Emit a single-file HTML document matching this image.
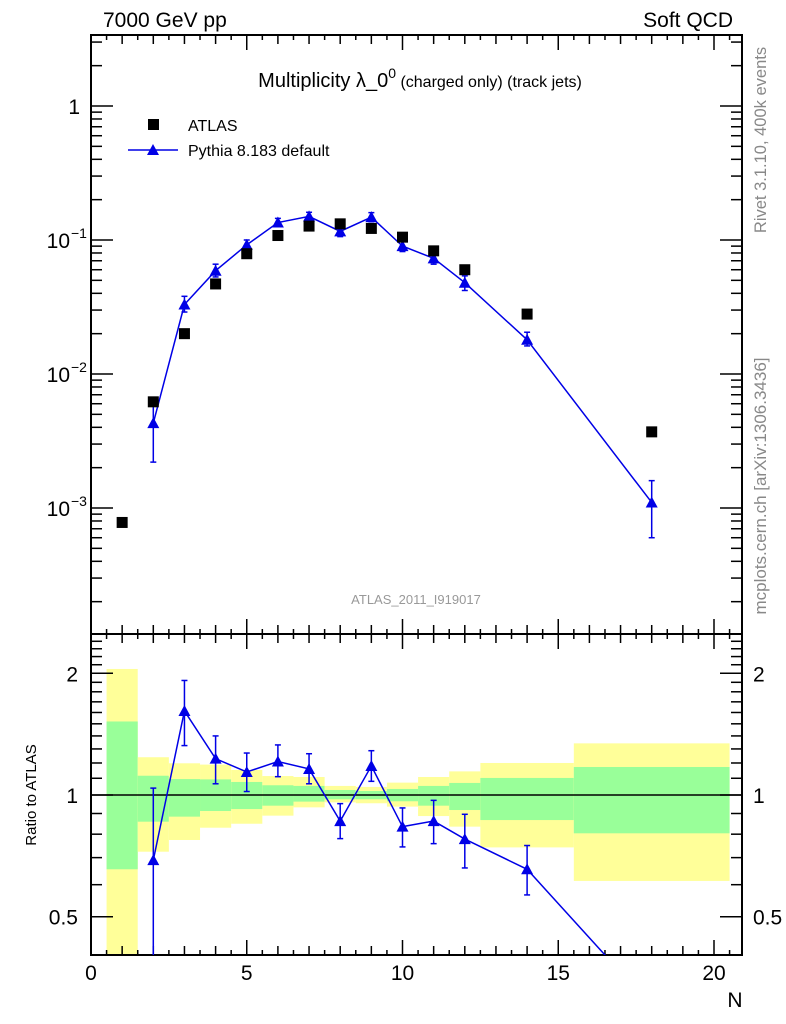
<!DOCTYPE html>
<html><head><meta charset="utf-8"><style>
html,body{margin:0;padding:0;background:#fff;width:786px;height:1024px;overflow:hidden}
svg{display:block;font-family:"Liberation Sans",Arial,sans-serif}
</style></head><body>
<svg id="c" width="786" height="1024" viewBox="0 0 786 1024"></svg>
<script>
const xs=[1,2,3,4,5,6,7,8,9,10,11,12,14,18];
const atlasVals=[0.00078,0.0062,0.020,0.047,0.079,0.108,0.127,0.132,0.122,0.105,0.083,0.060,0.028,0.0037];
const pyX=[2,3,4,5,6,7,8,9,10,11,12,14,18];
const pyVals=[0.0043,0.033,0.059,0.092,0.135,0.150,0.116,0.148,0.090,0.073,0.048,0.018,0.0011];
const pyLo=[0.0022,0.029,0.053,0.085,0.126,0.140,0.106,0.137,0.082,0.066,0.042,0.0162,0.0006];
const pyHi=[0.0064,0.038,0.066,0.100,0.145,0.161,0.126,0.160,0.098,0.080,0.054,0.0205,0.0016];
const rVals=[0.69,1.614,1.23,1.14,1.21,1.16,0.862,1.18,0.835,0.862,0.778,0.655,0.30];
const rHi=[1.04,1.92,1.40,1.27,1.33,1.265,0.952,1.287,0.929,0.97,0.896,0.75,0.38];
const rLo=[0.01,1.325,1.066,1.02,1.11,1.066,0.78,1.081,0.744,0.758,0.66,0.566,0.16];
const binLo=[0.5,1.5,2.5,3.5,4.5,5.5,6.5,7.5,8.5,9.5,10.5,11.5,12.5,15.5];
const binHi=[1.5,2.5,3.5,4.5,5.5,6.5,7.5,8.5,9.5,10.5,11.5,12.5,15.5,20.5];
const yelHi=[2.05,1.24,1.198,1.189,1.153,1.114,1.108,1.053,1.047,1.073,1.108,1.144,1.200,1.342];
const yelLo=[0.3,0.724,0.774,0.830,0.849,0.889,0.932,0.959,0.954,0.936,0.887,0.835,0.742,0.613];
const grnHi=[1.52,1.116,1.095,1.093,1.077,1.057,1.053,1.029,1.023,1.035,1.053,1.071,1.102,1.173];
const grnLo=[0.655,0.859,0.884,0.913,0.923,0.941,0.963,0.976,0.976,0.965,0.941,0.918,0.867,0.804];
const xTicks=[0,5,10,15,20];
const yTicks=[1,0.1,0.01,0.001];
const yTickLabels=["1","10^-1","10^-2","10^-3"];
const rTicks=[2,1,0.5];

const L=91,R=742,T=35,M=634,B=955;
const X=v=>L+v*31.15;
const Y=v=>106-134*Math.log10(v);
const RY=v=>795-121.7*Math.log2(v);
const svg=document.getElementById('c');
const NS='http://www.w3.org/2000/svg';
function mk(tag,at,parent){const e=document.createElementNS(NS,tag);for(const k in at)e.setAttribute(k,at[k]);(parent||svg).appendChild(e);return e;}
function txt(x,y,s,at,parent){const e=mk('text',Object.assign({x:x,y:y},at||{}),parent);e.textContent=s;return e;}

const defs=mk('defs',{});
const c1=mk('clipPath',{id:'cp1'},defs);mk('rect',{x:L,y:T,width:R-L,height:M-T},c1);
const c2=mk('clipPath',{id:'cp2'},defs);mk('rect',{x:L,y:M,width:R-L,height:B-M},c2);

const bands=mk('g',{'clip-path':'url(#cp2)'});


for(let i=0;i<binLo.length;i++){
  const y=mk('rect',{x:X(binLo[i]),y:RY(yelHi[i]),width:X(binHi[i])-X(binLo[i]),height:RY(yelLo[i])-RY(yelHi[i]),fill:'#ffff99'},bands);
  
  
  const g=mk('rect',{x:X(binLo[i]),y:RY(grnHi[i]),width:X(binHi[i])-X(binLo[i]),height:RY(grnLo[i])-RY(grnHi[i]),fill:'#99ff99'},bands);
  
  
}
mk('line',{x1:L,x2:R,y1:RY(1),y2:RY(1),stroke:'#000','stroke-width':1.5});

mk('rect',{x:L,y:T,width:R-L,height:M-T,fill:'none',stroke:'#000','stroke-width':2});
mk('rect',{x:L,y:M,width:R-L,height:B-M,fill:'none',stroke:'#000','stroke-width':2});

for(let v=0;v<=20.5;v+=0.5){
  const maj=v%5===0, mid=Number.isInteger(v);
  const len=maj?15:(mid?9:5);
  const x=X(v);
  mk('line',{x1:x,x2:x,y1:T,y2:T+len,stroke:'#000','stroke-width':1.5});
  mk('line',{x1:x,x2:x,y1:M-len,y2:M+len,stroke:'#000','stroke-width':1.5});
  mk('line',{x1:x,x2:x,y1:B,y2:B-len,stroke:'#000','stroke-width':1.5});
}
xTicks.forEach(v=>{const t=txt(X(v),980,String(v),{'font-size':21,'text-anchor':'middle'});
 
 });
const xt=txt(735,1007,'N',{'font-size':21,'text-anchor':'middle'});



for(let d=-4;d<=0;d++){for(let m=1;m<=9;m++){
  const v=m*Math.pow(10,d);const y=Y(v);if(y<T||y>M)continue;
  const len=m===1?22:11;
  mk('line',{x1:L,x2:L+len,y1:y,y2:y,stroke:'#000','stroke-width':1.5});
  mk('line',{x1:R,x2:R-len,y1:y,y2:y,stroke:'#000','stroke-width':1.5});
}}
yTicks.forEach((v,i)=>{
  const y=Y(v)+8;
  let t;
  if(i===0){t=txt(80,y,'1',{'font-size':21,'text-anchor':'end'});}
  else{t=txt(70,y,'10',{'font-size':21,'text-anchor':'end'});
    txt(71,y-10,'\u2212'+i,{'font-size':14});}
  
  
});

for(let v=0.4;v<=2.55;v+=0.1){
  const y=RY(v);if(y<M||y>B)continue;
  const maj=[0.5,1,2].some(m=>Math.abs(m-v)<1e-6);
  const len=maj?22:11;
  mk('line',{x1:L,x2:L+len,y1:y,y2:y,stroke:'#000','stroke-width':1.5});
  mk('line',{x1:R,x2:R-len,y1:y,y2:y,stroke:'#000','stroke-width':1.5});
}
rTicks.forEach(v=>{
  const t=txt(78,RY(v)+8,String(v),{'font-size':21,'text-anchor':'end'});
  
  
  const t2=txt(753,RY(v)+8,String(v),{'font-size':21});
  
  
});
const ryt=txt(0,0,'Ratio to ATLAS',{'font-size':15,'text-anchor':'middle',transform:'translate(36,795) rotate(-90)'});



const g1=mk('g',{'clip-path':'url(#cp1)'});
const pl=mk('polyline',{points:pyX.map((x,i)=>X(x)+','+Y(pyVals[i])).join(' '),fill:'none',stroke:'#0000e6','stroke-width':1.5},g1);


function tri(x,y,p){return mk('polygon',{points:`${x},${y-6} ${x-6},${y+5} ${x+6},${y+5}`,fill:'#0000e6'},p);}
pyX.forEach((x,i)=>{
  const xx=X(x);
  mk('line',{x1:xx,x2:xx,y1:Y(pyHi[i]),y2:Y(pyLo[i]),stroke:'#0000e6','stroke-width':1.5},g1);
  mk('line',{x1:xx-3,x2:xx+3,y1:Y(pyHi[i]),y2:Y(pyHi[i]),stroke:'#0000e6','stroke-width':1.5},g1);
  mk('line',{x1:xx-3,x2:xx+3,y1:Y(pyLo[i]),y2:Y(pyLo[i]),stroke:'#0000e6','stroke-width':1.5},g1);
  const t=tri(xx,Y(pyVals[i]),g1);
  
  
});
xs.forEach((x,i)=>{
  const r=mk('rect',{x:X(x)-5.5,y:Y(atlasVals[i])-5.5,width:11,height:11,fill:'#000'},g1);
  
  
});

const g2=mk('g',{'clip-path':'url(#cp2)'});
const rl=mk('polyline',{points:pyX.map((x,i)=>X(x)+','+RY(rVals[i])).join(' '),fill:'none',stroke:'#0000e6','stroke-width':1.5},g2);


pyX.forEach((x,i)=>{
  const xx=X(x);
  mk('line',{x1:xx,x2:xx,y1:RY(rHi[i]),y2:RY(rLo[i]),stroke:'#0000e6','stroke-width':1.5},g2);
  mk('line',{x1:xx-3,x2:xx+3,y1:RY(rHi[i]),y2:RY(rHi[i]),stroke:'#0000e6','stroke-width':1.5},g2);
  mk('line',{x1:xx-3,x2:xx+3,y1:RY(rLo[i]),y2:RY(rLo[i]),stroke:'#0000e6','stroke-width':1.5},g2);
  const t=tri(xx,RY(rVals[i]),g2);
  
  
});

const lg=mk('g',{});


mk('rect',{x:148,y:119,width:11,height:11,fill:'#000'},lg);
txt(188,131,'ATLAS',{'font-size':16},lg);
mk('line',{x1:128,x2:178,y1:150,y2:150,stroke:'#0000e6','stroke-width':1.5},lg);
tri(153,150,lg);
txt(188,156,'Pythia 8.183 default',{'font-size':16},lg);

const t1=txt(103,27,'7000 GeV pp',{'font-size':21});


const t2=txt(733,27,'Soft QCD',{'font-size':21,'text-anchor':'end'});


const tt=mk('text',{x:420,y:87,'text-anchor':'middle','font-size':20});


tt.innerHTML='Multiplicity \u03bb_0<tspan dy="-9" font-size="14">0</tspan><tspan dy="9" font-size="16"> (charged only) (track jets)</tspan>';
const an=txt(416,604,'ATLAS_2011_I919017',{'font-size':13,'text-anchor':'middle',fill:'#999'});


const rv=txt(0,0,'Rivet 3.1.10,  400k events',{'font-size':16.5,'text-anchor':'middle',fill:'#888',transform:'translate(766,140) rotate(-90)'});


const mp=txt(0,0,'mcplots.cern.ch [arXiv:1306.3436]',{'font-size':17,'text-anchor':'middle',fill:'#888',transform:'translate(766,486) rotate(-90)'});


</script>
</body></html>
